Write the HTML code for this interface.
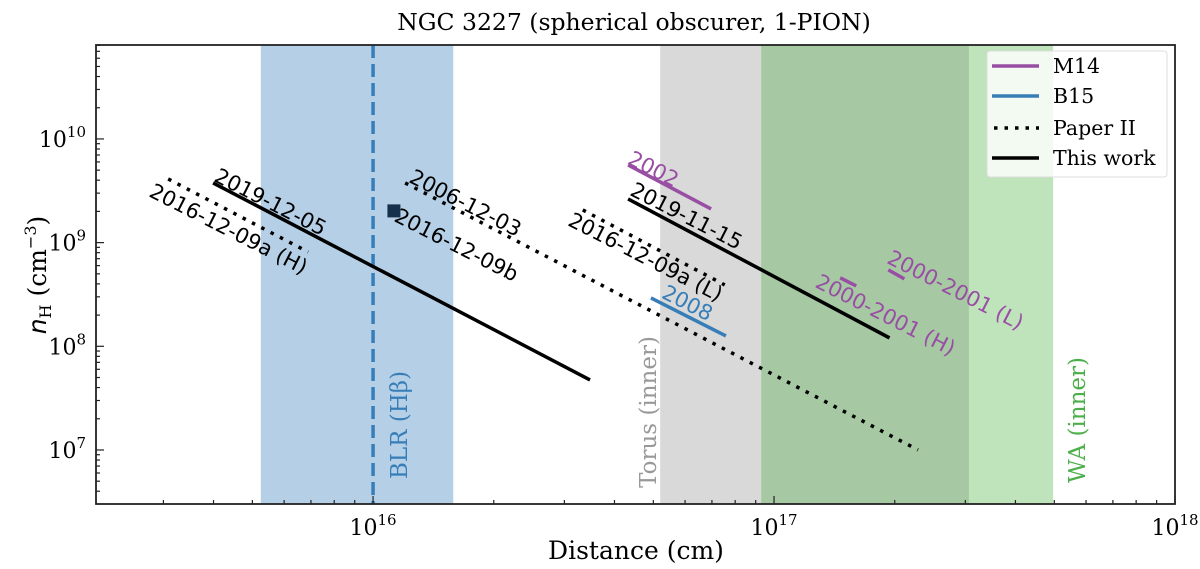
<!DOCTYPE html>
<html><head><meta charset="utf-8"><style>
html,body{margin:0;padding:0;background:#fff;}
svg{display:block;}
.serif{font-family:"DejaVu Serif","Liberation Serif",serif;}
.sans{font-family:"DejaVu Sans","Liberation Sans",sans-serif;}
</style></head><body>
<svg id="chart" width="1200" height="569" viewBox="0 0 1200 569" xmlns="http://www.w3.org/2000/svg">
<g id="bands"></g>
<g id="series"></g>
<g id="labels"></g>
<g id="axes"></g>
<text class="serif" x="634" y="30" font-size="23.5" text-anchor="middle">NGC 3227 (spherical obscurer, 1-PION)</text>
<text class="serif" x="636" y="559" font-size="25" text-anchor="middle">Distance (cm)</text>
<text class="serif" transform="translate(46,275) rotate(-90)" font-size="25" text-anchor="middle"><tspan font-style="italic" font-family="DejaVu Sans, sans-serif">n</tspan><tspan font-size="16" dy="5">H</tspan><tspan dy="-5">  (cm</tspan><tspan font-size="16" dy="-10">−3</tspan><tspan dy="10">)</tspan></text>
<g id="legend">
  <rect x="987" y="51" width="180" height="126" rx="3" fill="#ffffff" fill-opacity="0.8" stroke="#dddddd"/>
  <g><line x1="992" y1="66" x2="1039" y2="66" stroke="#984ea3" stroke-width="3.5"/><text class="serif" x="1053" y="73" font-size="20.5">M14</text></g>
  <g><line x1="992" y1="96" x2="1039" y2="96" stroke="#377eb8" stroke-width="3.5"/><text class="serif" x="1053" y="103" font-size="20.5">B15</text></g>
  <g><line x1="994" y1="128" x2="1039" y2="128" stroke="#000" stroke-width="3.5" stroke-dasharray="3.5,7"/><text class="serif" x="1053" y="135" font-size="20.5">Paper II</text></g>
  <g><line x1="992" y1="158" x2="1039" y2="158" stroke="#000" stroke-width="3.5"/><text class="serif" x="1053" y="165" font-size="20.5">This work</text></g>
</g>
</svg>
<script>
// axis domain (log10)
const xDomain = [15.309, 18.0];
const yDomain = [6.479, 10.906];
const xMajorTicks = [16, 17, 18];
const yMajorTicks = [7, 8, 9, 10];
// bands (log10 cm)
const bandNames = ['blr-band', 'torus-band', 'wa-band'];
const bandStart = [15.72, 16.716, 16.968];
const bandEnd = [16.20, 17.486, 17.696];
// series segments: [x0,x1] log10 cm, [y0,y1] log10 cm^-3
const seriesNames = ['this-work-2019-12-05','this-work-2019-11-15','paper2-2016-12-09a-h','paper2-2006-12-03','paper2-2016-12-09a-l','m14-2002','m14-2000-2001-h','m14-2000-2001-l','b15-2008'];
const seriesKind = ['tw','tw','p2','p2','p2','m14','m14','m14','b15'];
const seriesX0 = [15.601, 16.636, 15.489, 16.080, 16.523, 16.636, 17.165, 17.285, 16.693];
const seriesX1 = [16.541, 17.288, 15.838, 17.359, 16.877, 16.843, 17.205, 17.325, 16.880];
const seriesY0 = [9.576, 9.421, 9.614, 9.576, 9.315, 9.749, 8.660, 8.737, 8.467];
const seriesY1 = [7.676, 8.081, 8.910, 7.001, 8.592, 9.325, 8.582, 8.650, 8.100];
const markerX = [16.052];
const markerY = [9.306];
const blrLineX = [16.0];

const L=96,R=1175,T=45,B=504;
const NS='http://www.w3.org/2000/svg';
function sx(v){return L+(v-xDomain[0])/(xDomain[1]-xDomain[0])*(R-L);}
function sy(v){return B-(v-yDomain[0])/(yDomain[1]-yDomain[0])*(B-T);}
function mk(tag,attrs,parent){const e=document.createElementNS(NS,tag);for(const k in attrs)e.setAttribute(k,attrs[k]);parent.appendChild(e);return e;}

const bands=document.getElementById('bands');
const bandColors=['#b5d0e6','#d9d9d9','#bfe4bb'];
for(let i=0;i<bandNames.length;i++){
  const r=mk('rect',{x:sx(bandStart[i]),y:T,width:sx(bandEnd[i])-sx(bandStart[i]),height:B-T,fill:bandColors[i]},bands);
  
  
}
{
  const s=Math.max(bandStart[1],bandStart[2]), e=Math.min(bandEnd[1],bandEnd[2]);
  const r=mk('rect',{x:sx(s),y:T,width:sx(e)-sx(s),height:B-T,fill:'#a6c9a4'},bands);
  
  
}
const series=document.getElementById('series');
{
  const l=mk('line',{x1:sx(blrLineX[0]),x2:sx(blrLineX[0]),y1:T,y2:B,stroke:'#377eb8','stroke-width':3.5,'stroke-dasharray':'13,6'},series);
  
  
}
const styles={tw:{stroke:'#000',dash:null},p2:{stroke:'#000',dash:'3.5,7'},m14:{stroke:'#984ea3',dash:null},b15:{stroke:'#377eb8',dash:null}};
for(let i=0;i<seriesNames.length;i++){
  const st=styles[seriesKind[i]];
  const a={x1:sx(seriesX0[i]),y1:sy(seriesY0[i]),x2:sx(seriesX1[i]),y2:sy(seriesY1[i]),stroke:st.stroke,'stroke-width':3.5};
  if(st.dash)a['stroke-dasharray']=st.dash;
  const l=mk('line',a,series);
  
  
}
for(let i=0;i<markerX.length;i++){
  const m=mk('rect',{x:sx(markerX[i])-6.5,y:sy(markerY[i])-6.5,width:13,height:13,fill:'#15304a'},series);
  
  
}
const labels=document.getElementById('labels');
const ann=[
 ['2019-12-05',270,203,27,'#000','label-2019-12-05'],
 ['2016-12-09a (H)',228,230,27,'#000','label-2016-12-09a-h'],
 ['2006-12-03',465,204,27,'#000','label-2006-12-03'],
 ['2016-12-09b',456,246,27,'#000','label-2016-12-09b'],
 ['2002',653,170,27,'#984ea3','label-2002'],
 ['2019-11-15',686,217,27,'#000','label-2019-11-15'],
 ['2016-12-09a (L)',645,258,27,'#000','label-2016-12-09a-l'],
 ['2008',687,304,27,'#377eb8','label-2008'],
 ['2000-2001 (H)',885,316,27,'#984ea3','label-2000-2001-h'],
 ['2000-2001 (L)',955,291,27,'#984ea3','label-2000-2001-l']
];
for(const a of ann){
  const t=mk('text',{x:0,y:0,transform:`translate(${a[1]},${a[2]}) rotate(${a[3]})`,'text-anchor':'middle','dominant-baseline':'middle','font-size':21,fill:a[4],class:'sans'},labels);
  t.textContent=a[0];
  
  
}
const vlab=[['BLR (Hβ)',407,425,'#377eb8','label-blr'],['Torus (inner)',656,412,'#999999','label-torus'],['WA (inner)',1085,420,'#4daf4a','label-wa']];
for(const a of vlab){
  const t=mk('text',{x:0,y:0,transform:`translate(${a[1]},${a[2]}) rotate(-90)`,'text-anchor':'middle','font-size':23,fill:a[3],class:'serif'},labels);
  t.textContent=a[0];
  
  
}
const axes=document.getElementById('axes');
{
  const f=mk('rect',{x:L,y:T,width:R-L,height:B-T,fill:'none',stroke:'#222','stroke-width':1.8},axes);
  
  
}
for(let d=Math.floor(xDomain[0]);d<=Math.ceil(xDomain[1]);d++){
  for(let m=1;m<10;m++){
    const v=d+Math.log10(m);
    if(v<xDomain[0]||v>xDomain[1]+1e-9)continue;
    const len=m===1?8:4;
    const tk=mk('line',{x1:sx(v),x2:sx(v),y1:B,y2:B-len,stroke:'#222','stroke-width':1.2},axes);
    
    
  }
}
for(let d=Math.floor(yDomain[0]);d<=Math.ceil(yDomain[1]);d++){
  for(let m=1;m<10;m++){
    const v=d+Math.log10(m);
    if(v<yDomain[0]||v>yDomain[1])continue;
    const len=m===1?8:4;
    const tk=mk('line',{x1:L,x2:L+len,y1:sy(v),y2:sy(v),stroke:'#222','stroke-width':1.2},axes);
    
    
  }
}
for(const v of xMajorTicks){
  const t=mk('text',{x:sx(v),y:B+31,'text-anchor':'middle','font-size':22,class:'serif'},axes);
  t.innerHTML=`10<tspan font-size="15" dy="-10">${v}</tspan>`;
  
  
}
for(const v of yMajorTicks){
  const t=mk('text',{x:L-10,y:sy(v)+8,'text-anchor':'end','font-size':22,class:'serif'},axes);
  t.innerHTML=`10<tspan font-size="15" dy="-10">${v}</tspan>`;
  
  
}
</script>
</body></html>
